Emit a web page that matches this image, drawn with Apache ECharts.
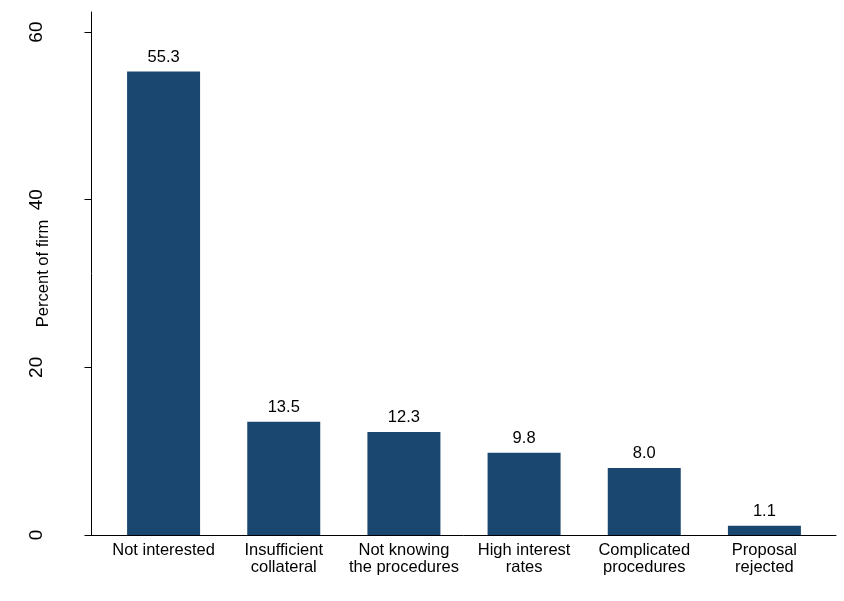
<!DOCTYPE html>
<html>
<head>
<meta charset="utf-8">
<script src="https://cdn.jsdelivr.net/npm/echarts@6/dist/echarts.min.js"></script>
<style>
html,body{margin:0;padding:0;background:#fff;}
#c{width:844px;height:601px;}
</style>
</head>
<body>
<div id="c"></div>
<script>
var categories = ["Not interested", "Insufficient\ncollateral", "Not knowing\nthe procedures", "High interest\nrates", "Complicated\nprocedures", "Proposal\nrejected"];
var values = [55.3, 13.5, 12.3, 9.8, 8.0, 1.1];
var yTicks = [0, 20, 40, 60];
var yTitle = "Percent of firm";

var FONT = "Liberation Sans, Arial, sans-serif";
var chart = echarts.init(document.getElementById('c'), null, {renderer: 'canvas'});
chart.setOption({
  backgroundColor: '#ffffff',
  animation: false,
  grid: [
    {left: 103.5, right: 19.5, top: 12, bottom: 66, containLabel: false, outerBoundsMode: 'none'},
    {left: 91.5, right: 8, top: 12, bottom: 66, containLabel: false, outerBoundsMode: 'none'}
  ],
  xAxis: [
    {
      type: 'category', gridIndex: 0, data: categories,
      axisLine: {show: false},
      axisTick: {show: false},
      axisLabel: {color: '#000', fontFamily: FONT, fontSize: 16.5, lineHeight: 17, margin: 7, interval: 0}
    },
    {
      type: 'value', gridIndex: 1, min: 0, max: 1,
      axisLine: {show: true, lineStyle: {color: '#000', width: 1}},
      axisTick: {show: false}, axisLabel: {show: false}, splitLine: {show: false}
    }
  ],
  yAxis: [
    {
      type: 'value', gridIndex: 0, min: 0, max: 62.4, offset: 12,
      name: yTitle, nameLocation: 'middle', nameGap: 40, nameRotate: 90, nameMoveOverlap: false,
      nameTextStyle: {color: '#000', fontFamily: FONT, fontSize: 16.5},
      axisLine: {show: true, lineStyle: {color: '#000', width: 1}},
      axisTick: {show: true, length: 7, lineStyle: {color: '#000'}, customValues: yTicks},
      axisLabel: {show: true, rotate: 90, color: '#000', fontFamily: FONT, fontSize: 19, margin: 45, customValues: yTicks},
      splitLine: {show: false}
    },
    {type: 'value', gridIndex: 1, show: false, min: 0, max: 1}
  ],
  series: [
    {
      type: 'bar', xAxisIndex: 0, yAxisIndex: 0, data: values,
      barWidth: 73,
      itemStyle: {color: '#1a476f'},
      label: {show: true, position: 'top', distance: 6, color: '#000', fontFamily: FONT, fontSize: 16.5,
        formatter: function(p){ return p.value.toFixed(1); }}
    }
  ]
});
</script>
</body>
</html>
